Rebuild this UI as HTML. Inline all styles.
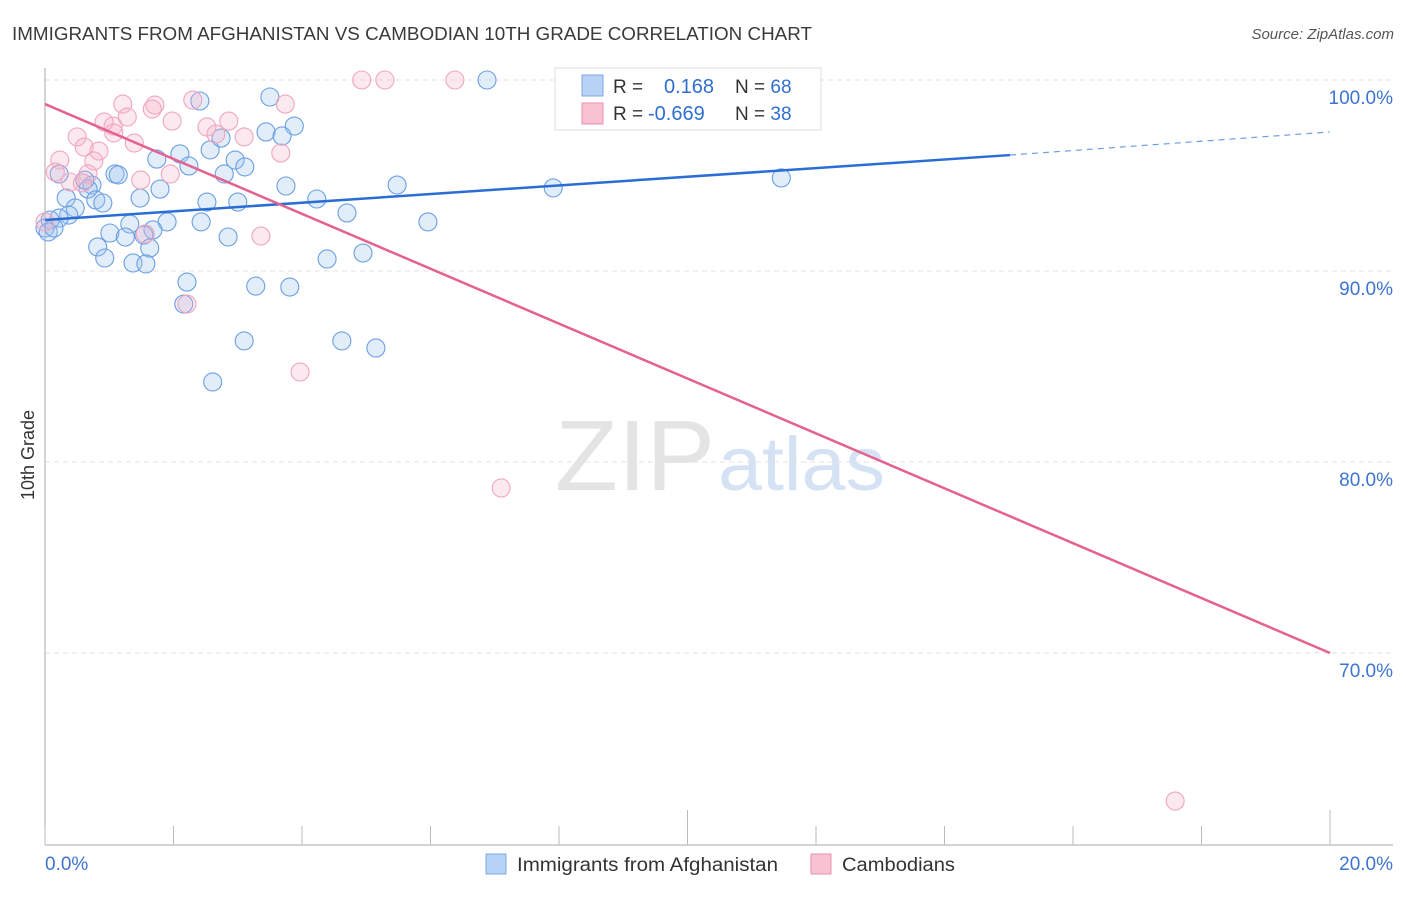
<!DOCTYPE html>
<html><head><meta charset="utf-8"><style>
body{margin:0;background:#fff;font-family:"Liberation Sans",sans-serif}
svg text{font-family:"Liberation Sans",sans-serif}
</style></head><body>
<svg id="chart" width="1406" height="892" viewBox="0 0 1406 892" xmlns="http://www.w3.org/2000/svg">
<text x="12" y="40" font-size="18" fill="#3a3a3a" textLength="800" lengthAdjust="spacingAndGlyphs">IMMIGRANTS FROM AFGHANISTAN VS CAMBODIAN 10TH GRADE CORRELATION CHART</text>
<text x="1394" y="39" font-size="15" fill="#555" text-anchor="end" font-style="italic">Source: ZipAtlas.com</text>
<text x="555" y="490" font-size="100" fill="#e4e4e4" font-family="Liberation Serif" textLength="160" lengthAdjust="spacingAndGlyphs">ZIP</text>
<text x="718" y="490" font-size="76" fill="#d4e2f4" textLength="167" lengthAdjust="spacingAndGlyphs">atlas</text>
<g id="grid"></g>
<g id="axes"></g>
<g id="pts"></g>
<g id="trend"></g>
<text transform="translate(34,455) rotate(-90)" font-size="18" fill="#333" text-anchor="middle">10th Grade</text>
<g>
<rect x="555" y="68" width="266" height="62" fill="#fff" stroke="#ddd"/>
<rect x="582" y="75" width="21" height="21" fill="#b8d3f5" stroke="#7aa7e6"/>
<rect x="582" y="103" width="21" height="21" fill="#f8c2d3" stroke="#ec8fae"/>
<text x="613" y="93" font-size="19" fill="#333">R = </text>
<text x="664" y="93" font-size="20" fill="#2f6fd0">0.168</text>
<text x="735" y="93" font-size="19" fill="#333">N = <tspan fill="#2f6fd0">68</tspan></text>
<text x="613" y="120" font-size="19" fill="#333">R = </text>
<text x="648" y="120" font-size="20" fill="#2f6fd0">-0.669</text>
<text x="735" y="120" font-size="19" fill="#333">N = <tspan fill="#2f6fd0">38</tspan></text>
</g>
<g>
<rect x="486" y="854" width="20" height="20" fill="#b8d3f5" stroke="#7aa7e6"/>
<text x="517" y="871" font-size="19" fill="#333" textLength="261" lengthAdjust="spacingAndGlyphs">Immigrants from Afghanistan</text>
<rect x="811" y="854" width="20" height="20" fill="#f8c2d3" stroke="#ec8fae"/>
<text x="842" y="871" font-size="19" fill="#333" textLength="113" lengthAdjust="spacingAndGlyphs">Cambodians</text>
</g>
</svg>
<script>
const yTicks=[100,90,80,70];
const yTickLabels=["100.0%","90.0%","80.0%","70.0%"];
const xEndLabels=["0.0%","20.0%"];
const blueX=[6.88,10.40,3.50,2.41,3.88,3.44,3.69,2.74,2.57,1.74,2.10,2.24,2.96,3.11,2.79,1.09,1.14,0.22,11.46,5.48,3.75,7.91,0.73,0.67,1.79,1.48,0.33,0.79,4.23,0.90,2.52,3.00,0.47,4.70,0.37,0.22,0.08,0.0,1.90,2.43,1.32,5.96,1.01,1.68,1.25,1.54,2.85,0.82,1.63,4.95,0.93,4.39,1.37,1.57,2.21,3.28,3.81,2.16,3.10,4.62,5.15,2.61,0.05,0.14,0.62];
const blueY=[100.0,99.32,99.11,98.90,97.59,97.28,97.07,96.96,96.34,95.86,96.13,95.50,95.81,95.45,95.08,95.08,95.03,95.08,94.87,94.50,94.45,94.35,94.50,94.29,94.29,93.82,93.82,93.72,93.77,93.56,93.61,93.61,93.30,93.04,92.93,92.77,92.67,92.25,92.57,92.57,92.46,92.57,91.99,92.15,91.78,91.88,91.78,91.26,91.20,90.94,90.68,90.63,90.42,90.37,89.42,89.21,89.16,88.27,86.34,86.34,85.97,84.19,92.04,92.25,94.76];
const pinkX=[4.93,5.29,6.38,8.61,2.30,1.21,1.71,1.67,1.28,0.92,1.06,1.98,2.86,2.52,3.74,2.66,3.10,0.50,1.07,0.61,0.84,1.39,3.67,0.76,0.23,0.67,0.16,1.49,1.95,0.58,0.39,3.36,1.56,2.21,3.97,7.10,17.59,0.0];
const pinkY=[100,100,100,98.17,98.95,98.74,98.69,98.48,98.06,97.80,97.59,97.85,97.85,97.54,98.74,97.17,97.02,97.02,97.23,96.49,96.28,96.70,96.18,95.76,95.81,95.08,95.18,94.76,95.08,94.61,94.66,91.83,91.94,88.27,84.71,78.64,62.25,92.57];
const blueTrend=[92.67,96.07,97.28];
const blueTrendX=[0,15.02,20];
const pinkTrend=[98.74,70.0];
const pinkTrendX=[0,20];

const NS="http://www.w3.org/2000/svg";
const X=v=>45+v*64.25;
const Y=v=>80+(100-v)*19.1;
function mk(tag,attrs,parent){const e=document.createElementNS(NS,tag);for(const k in attrs)e.setAttribute(k,attrs[k]);document.getElementById(parent).appendChild(e);return e;}

yTicks.forEach((t,i)=>{
  const g=mk('line',{x1:45,x2:1393,y1:Y(t),y2:Y(t),stroke:'#e2e2e2','stroke-width':1,'stroke-dasharray':'5,4'},'grid');
  
  
  const l=mk('text',{x:1393,y:Y(t)+24,'font-size':19,fill:'#3d74d0','text-anchor':'end'},'grid');
  l.textContent=yTickLabels[i];
  
  
});
const ya=mk('line',{x1:45,x2:45,y1:68,y2:845,stroke:'#aaa'},'axes');


const xa=mk('line',{x1:45,x2:1393,y1:845,y2:845,stroke:'#aaa'},'axes');


for(let i=0;i<=20;i+=2){
  const tall=(i===10||i===20);
  const t=mk('line',{x1:X(i),x2:X(i),y1:tall?810:826,y2:845,stroke:'#bbb'},'axes');
  
  
}
[[0,'start'],[20,'end']].forEach((d,i)=>{
  const t=mk('text',{x:i?1393:45,y:870,'font-size':19,fill:'#3d74d0','text-anchor':d[1]},'axes');
  t.textContent=xEndLabels[i];
  
  
});
blueX.forEach((v,i)=>{
  const c=mk('circle',{cx:X(v),cy:Y(blueY[i]),r:9,fill:'rgba(160,195,240,0.3)',stroke:'#6b9fe3','stroke-width':1.1},'pts');
  
  
});
pinkX.forEach((v,i)=>{
  const c=mk('circle',{cx:X(v),cy:Y(pinkY[i]),r:9,fill:'rgba(246,175,198,0.28)',stroke:'#f0a6bf','stroke-width':1.1},'pts');
  
  
});
const b1=mk('line',{x1:X(blueTrendX[0]),y1:Y(blueTrend[0]),x2:X(blueTrendX[1]),y2:Y(blueTrend[1]),stroke:'#2a6dd4','stroke-width':2.5},'trend');


const b2=mk('line',{x1:X(blueTrendX[1]),y1:Y(blueTrend[1]),x2:X(blueTrendX[2]),y2:Y(blueTrend[2]),stroke:'#6b9fe3','stroke-width':1.2,'stroke-dasharray':'6,5'},'trend');


const p1=mk('line',{x1:X(pinkTrendX[0]),y1:Y(pinkTrend[0]),x2:X(pinkTrendX[1]),y2:Y(pinkTrend[1]),stroke:'#e4628f','stroke-width':2.5},'trend');


</script>
</body></html>
